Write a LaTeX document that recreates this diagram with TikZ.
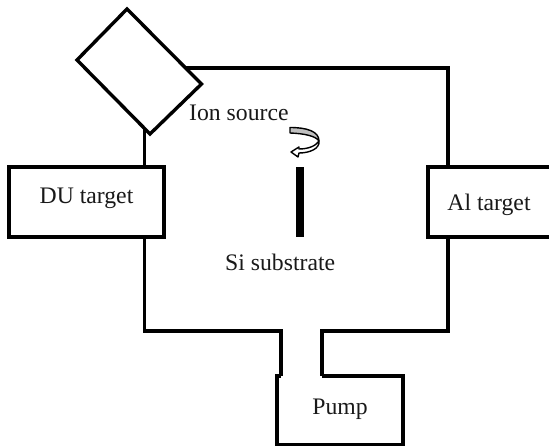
\documentclass[tikz,border=0pt]{standalone}
\usepackage{fontspec}
\setmainfont{Liberation Serif}
\tikzset{
  wall/.style={draw=black,line width=3.4pt,line join=miter,fill=white},
  lbl/.style={inner sep=0pt,font=\fontsize{23.7}{25}\selectfont,text=black!90},
}
\begin{document}
\begin{tikzpicture}[x=1pt,y=-1pt]
\useasboundingbox (0,0) rectangle (549,446);
\clip (0,0) rectangle (549,446);
% chamber
\draw[wall,fill=none] (144.5,120) -- (144.5,331) -- (281,331) -- (281,376);
\draw[wall,fill=none] (180,68) -- (448,68) -- (448,331) -- (322,331) -- (322,376);
% ion source (tilted box)
\draw[wall] (127,9) -- (201.5,84) -- (150,134) -- (77,60) -- cycle;
% targets
\draw[wall] (9,167) rectangle (164,237);
\draw[wall] (428,167) rectangle (552,237);
% pump
\draw[wall,fill=none] (281,376) -- (277,376) -- (277,444.5) -- (403,444.5) -- (403,376) -- (322,376);
% substrate
\fill[black] (296,167) rectangle (304,237);
% rotation arrow
\draw[black,line width=1.4pt,fill=black!25,line join=round]
  (290,127.5) .. controls (306,127.5) and (319,131) .. (319,141)
  .. controls (316,136) and (304,133.5) .. (290,133) -- cycle;
\draw[black,line width=1.4pt,fill=white,line join=round]
  (319,141) .. controls (320,149) and (309,153) .. (299,153)
  -- (298,157) -- (291,152) -- (299,147) -- (299,149)
  .. controls (308,149) and (316,146) .. (319,141) -- cycle;
% labels
\node[lbl] (du) at (86.5,198.5) {DU target};
\node[lbl] (al) at (489,205) {Al target};
\node[lbl] (pump) at (340,409) {Pump};
\node[lbl,anchor=base west] (ion) at (189,121) {Ion source};
\node[lbl,anchor=base west] (si) at (225,271) {Si substrate};
\end{tikzpicture}
\end{document}
